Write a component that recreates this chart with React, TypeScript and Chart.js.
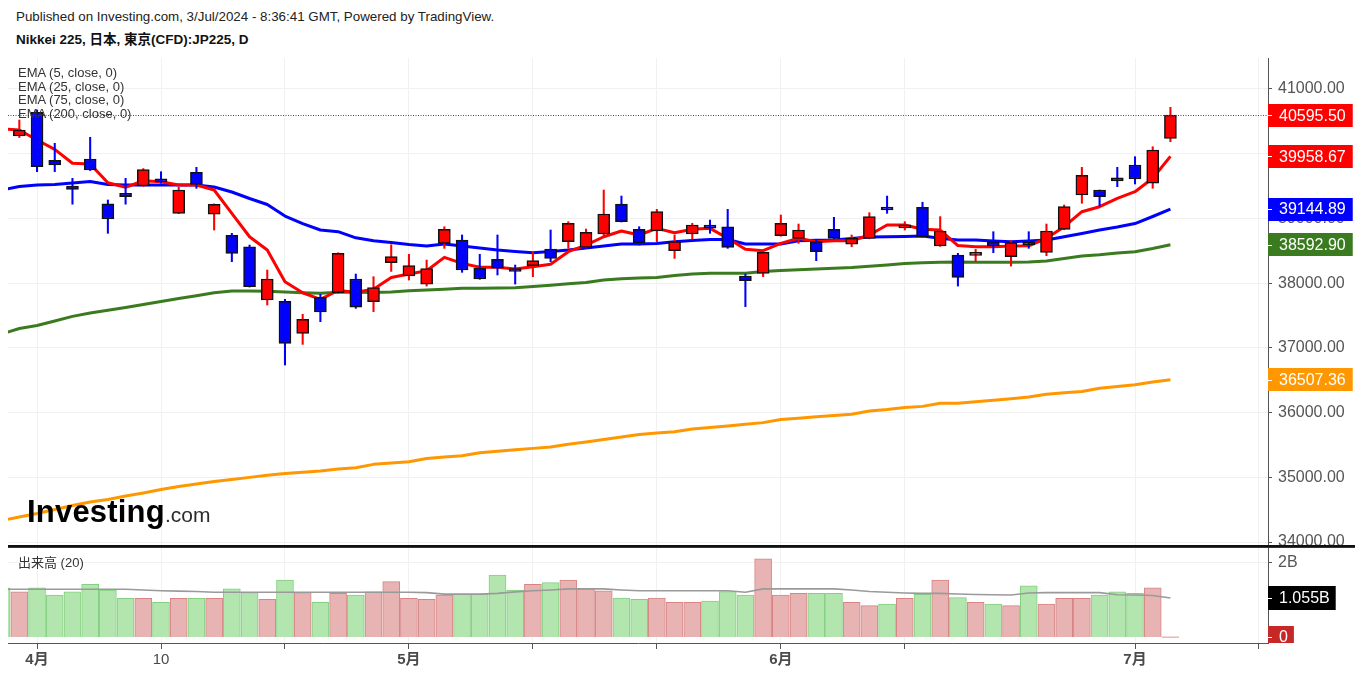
import React, { useEffect, useRef } from 'react';
import { Chart, registerables } from 'chart.js';

Chart.register(...registerables);

const FONT = "'Liberation Sans', Arial, 'Noto Sans CJK JP', sans-serif";
Chart.defaults.font.family = FONT;

// ---------- data ----------
const dates = [
  '3/28', '3/29',
  '4/1', '4/2', '4/3', '4/4', '4/5', '4/8', '4/9', '4/10', '4/11', '4/12',
  '4/15', '4/16', '4/17', '4/18', '4/19', '4/22', '4/23', '4/24', '4/25', '4/26', '4/30',
  '5/1', '5/2', '5/7', '5/8', '5/9', '5/10', '5/13', '5/14', '5/15', '5/16', '5/17',
  '5/20', '5/21', '5/22', '5/23', '5/24', '5/27', '5/28', '5/29', '5/30', '5/31',
  '6/3', '6/4', '6/5', '6/6', '6/7', '6/10', '6/11', '6/12', '6/13', '6/14',
  '6/17', '6/18', '6/19', '6/20', '6/21', '6/24', '6/25', '6/26', '6/27', '6/28',
  '7/1', '7/2', '7/3',
];

const opens = [
  40320, 40274, 40640, 39898, 39501, 39918, 39224, 39389, 39501, 39580,
  39079, 39713, 39065, 38739, 38563, 37739, 37719, 37225, 37781, 37853,
  38064, 37714, 38317, 38110, 37986, 38615, 38666, 38230, 38368, 38213,
  38270, 38527, 38641, 38553, 38759, 39222, 38832, 38806, 38502, 38759,
  38872, 38872, 38110, 38151, 38733, 38692, 38641, 38832, 38604, 38692,
  39172, 38855, 39172, 38574, 38434, 38430, 38641, 38409, 38604, 38476,
  38832, 39362, 39439, 39594, 39825, 39543, 40238,
];
const highs = [
  40450, 40521, 40675, 40161, 39620, 40254, 39285, 39620, 39770, 39722,
  39481, 39790, 39225, 38770, 38589, 38203, 37750, 37518, 37827, 38470,
  38141, 38100, 38594, 38445, 38357, 38872, 38744, 38445, 38744, 38280,
  38486, 38821, 38950, 38836, 39439, 39346, 38872, 39141, 38744, 38925,
  38975, 39141, 38141, 38486, 39053, 38914, 38666, 39017, 38744, 39089,
  39346, 38950, 39250, 39028, 38461, 38522, 38795, 38656, 38795, 38914,
  39208, 39790, 39439, 39790, 39954, 40108, 40717,
];
const lows = [
  40150, 40250, 39722, 39722, 39220, 39740, 38770, 39220, 39495, 39544,
  39075, 39465, 38821, 38332, 37940, 37662, 36735, 37054, 37405, 37845,
  37611, 37560, 38182, 38048, 37955, 38538, 38167, 38060, 38126, 37986,
  38100, 38332, 38538, 38545, 38718, 38945, 38589, 38641, 38383, 38682,
  38770, 38538, 37637, 38100, 38725, 38615, 38347, 38685, 38563, 38685,
  39079, 38821, 38712, 38568, 37955, 38332, 38471, 38264, 38538, 38424,
  38825, 39234, 39192, 39491, 39532, 39466, 40186,
];
const closes = [
  40170, 40366, 39800, 39827, 39450, 39748, 38991, 39337, 39754, 39565,
  39439, 39527, 39219, 38461, 37946, 38064, 37070, 37441, 37554, 38461,
  37627, 37931, 38409, 38270, 38224, 38832, 38203, 38064, 38230, 38180,
  38347, 38383, 38925, 38785, 39069, 38950, 38625, 39105, 38641, 38898,
  38850, 38553, 38040, 38476, 38925, 38821, 38486, 38692, 38692, 39028,
  39130, 38870, 38718, 38806, 38089, 38476, 38574, 38625, 38590, 38806,
  39182, 39666, 39337, 39580, 39609, 40057, 40595.5,
];

const ema5 = [
  40382, 40366, 40212, 40068, 39852, 39841, 39552, 39481, 39583, 39567,
  39516, 39516, 39439, 39079, 38717, 38512, 38022, 37852, 37750, 37886,
  37860, 37906, 38087, 38141, 38192, 38399, 38306, 38245, 38245, 38218,
  38254, 38291, 38486, 38589, 38717, 38806, 38744, 38847, 38779, 38832,
  38847, 38693, 38523, 38501, 38615, 38693, 38640, 38656, 38656, 38744,
  38898, 38898, 38832, 38821, 38581, 38563, 38563, 38574, 38578, 38693,
  38872, 39104, 39181, 39311, 39413, 39620, 39958.67,
];
const ema25 = [
  39439, 39493, 39516, 39524, 39547, 39570, 39524, 39516, 39516, 39516,
  39516, 39516, 39486, 39408, 39308, 39215, 39037, 38921, 38821, 38795,
  38700, 38656, 38628, 38597, 38574, 38605, 38574, 38543, 38512, 38489,
  38470, 38489, 38512, 38543, 38574, 38605, 38605, 38612, 38640, 38659,
  38674, 38674, 38605, 38605, 38605, 38656, 38662, 38666, 38690, 38713,
  38717, 38721, 38728, 38693, 38666, 38666, 38651, 38640, 38651, 38666,
  38717, 38767, 38821, 38867, 38921, 39030, 39144.89,
];
const ema75 = [
  37214, 37299, 37345, 37415, 37487, 37538, 37580, 37623, 37670, 37716,
  37762, 37806, 37852, 37878, 37878, 37875, 37863, 37852, 37843, 37858,
  37858, 37855, 37863, 37881, 37894, 37905, 37920, 37922, 37925, 37929,
  37948, 37968, 37990, 38011, 38048, 38068, 38079, 38087, 38118, 38141,
  38152, 38152, 38154, 38180, 38195, 38207, 38218, 38231, 38241, 38262,
  38280, 38303, 38314, 38322, 38326, 38322, 38322, 38324, 38326, 38342,
  38381, 38419, 38439, 38466, 38486, 38535, 38592.9,
];
const ema200 = [
  34332, 34386, 34440, 34502, 34563, 34617, 34656, 34710, 34757, 34811,
  34857, 34896, 34934, 34965, 34999, 35030, 35058, 35077, 35097, 35127,
  35148, 35200, 35220, 35240, 35290, 35313, 35333, 35379, 35403, 35424,
  35447, 35467, 35511, 35545, 35583, 35622, 35662, 35684, 35705, 35746,
  35769, 35792, 35818, 35845, 35894, 35913, 35934, 35954, 35974, 36024,
  36047, 36078, 36096, 36143, 36143, 36166, 36189, 36212, 36240, 36283,
  36305, 36325, 36375, 36402, 36429, 36472, 36507.36,
];

// volume in billions
const volumes = [
  1.33, 1.22, 1.33, 1.135, 1.22, 1.42, 1.27, 1.045, 1.045, 0.94,
  1.045, 1.045, 1.045, 1.3, 1.2, 1.02, 1.54, 1.2, 0.94, 1.18,
  1.135, 1.22, 1.495, 1.045, 1.02, 1.135, 1.16, 1.16, 1.675, 1.27,
  1.42, 1.47, 1.54, 1.3, 1.25, 1.055, 1.02, 1.055, 0.94, 0.94,
  0.97, 1.225, 1.135, 2.11, 1.135, 1.18, 1.18, 1.18, 0.94, 0.85,
  0.89, 1.045, 1.15, 1.54, 1.065, 0.94, 0.89, 0.85, 1.38, 0.89,
  1.045, 1.045, 1.135, 1.22, 1.18, 1.33, 0,
];
const volumeMA = [
  1.29, 1.29, 1.29, 1.29, 1.29, 1.29, 1.29, 1.29, 1.27, 1.25,
  1.24, 1.23, 1.21, 1.21, 1.21, 1.21, 1.21, 1.21, 1.21, 1.21,
  1.21, 1.21, 1.21, 1.21, 1.2, 1.16, 1.16, 1.16, 1.18, 1.22,
  1.25, 1.27, 1.3, 1.3, 1.3, 1.27, 1.25, 1.25, 1.25, 1.25,
  1.25, 1.25, 1.21, 1.3, 1.3, 1.3, 1.3, 1.3, 1.27, 1.23,
  1.21, 1.19, 1.18, 1.18, 1.16, 1.15, 1.14, 1.135, 1.19, 1.2,
  1.2, 1.2, 1.2, 1.14, 1.135, 1.12, 1.055,
];

const tickIndex = [2, 9, 16, 23, 30, 37, 44, 51, 64, 71];
const tickLabels = ['4月', '10', '', '5月', '', '', '6月', '', '7月', ''];
const priceTicks = [34000, 35000, 36000, 37000, 38000, 39000, 40000, 41000];
const volumeTicks = [2];
const emaLegend = ['EMA (5, close, 0)', 'EMA (25, close, 0)', 'EMA (75, close, 0)', 'EMA (200, close, 0)'];

// ---------- styles ----------
const X_MIN = 0.36;
const X_MAX = 71.51;
const PRICE_MIN = 33954;
const PRICE_MAX = 41479;
const VOL_MIN = -0.162;
const VOL_MAX = 2.405;

const UP = '#ff0000';
const DOWN = '#0000ff';
const GREEN = '#3b7b1f';
const ORANGE = '#ff9800';
const GRID = '#f1f1f1';
const AXIS = '#555555';

const last = closes.length - 1;
const isUp = closes.map((c, i) => c >= opens[i]);

const tickLabelFor = (v: number) => {
  const k = tickIndex.indexOf(Number(v));
  return k >= 0 ? tickLabels[k] : '';
};

const priceLabelPlugin = {
  id: 'priceLabels',
  afterDatasetsDraw(chart: any) {
    const { ctx, chartArea, scales } = chart;
    const py = Math.round(scales.y.getPixelForValue(closes[last])) + 0.5;
    ctx.save();
    ctx.strokeStyle = '#ff0000';
    ctx.lineWidth = 1;
    ctx.setLineDash([1, 1.5]);
    ctx.beginPath();
    ctx.moveTo(chartArea.left, py);
    ctx.lineTo(chartArea.right, py);
    ctx.stroke();
    ctx.restore();
  },
  afterDraw(chart: any) {
    const { ctx, chartArea, scales } = chart;
    const marks = [
      { v: closes[last], c: UP },
      { v: ema5[last], c: UP },
      { v: ema25[last], c: DOWN },
      { v: ema75[last], c: GREEN },
      { v: ema200[last], c: ORANGE },
    ];
    ctx.save();
    ctx.font = `16px ${FONT}`;
    ctx.textBaseline = 'middle';
    ctx.textAlign = 'left';
    for (const m of marks) {
      const yy = scales.y.getPixelForValue(m.v);
      const text = m.v.toFixed(2);
      const w = ctx.measureText(text).width;
      ctx.fillStyle = m.c;
      ctx.fillRect(chartArea.right, Math.round(yy - 11.5), w + 18, 23);
      ctx.strokeStyle = '#ffffff';
      ctx.lineWidth = 1;
      ctx.beginPath();
      ctx.moveTo(chartArea.right, Math.round(yy) + 0.5);
      ctx.lineTo(chartArea.right + 4, Math.round(yy) + 0.5);
      ctx.stroke();
      ctx.fillStyle = '#ffffff';
      ctx.fillText(text, chartArea.right + 11, yy + 1);
    }
    ctx.restore();
  },
};

const volumeLabelPlugin = {
  id: 'volumeLabels',
  afterDraw(chart: any) {
    const { ctx, chartArea, scales } = chart;
    ctx.save();
    ctx.font = `16px ${FONT}`;
    ctx.textBaseline = 'middle';
    ctx.textAlign = 'left';
    const ma = volumeMA[last];
    const ym = scales.y.getPixelForValue(ma);
    const tm = ma.toFixed(3) + 'B';
    const wm = ctx.measureText(tm).width;
    ctx.fillStyle = '#000000';
    ctx.fillRect(chartArea.right, Math.round(ym - 12), wm + 17, 24);
    ctx.fillStyle = '#ffffff';
    ctx.fillRect(chartArea.right, Math.round(ym), 4, 1);
    ctx.fillText(tm, chartArea.right + 11, ym + 1);

    ctx.beginPath();
    ctx.rect(chartArea.right, chartArea.top, 200, chartArea.bottom - chartArea.top);
    ctx.clip();
    const v0 = volumes[last];
    const y0 = scales.y.getPixelForValue(v0);
    const t0 = v0 === 0 ? '0' : v0.toFixed(3) + 'B';
    const w0 = ctx.measureText(t0).width;
    ctx.fillStyle = '#c62828';
    ctx.fillRect(chartArea.right, Math.round(y0 - 11), w0 + 17, 22);
    ctx.fillStyle = '#ffffff';
    ctx.fillRect(chartArea.right, Math.round(y0), 4, 1);
    ctx.fillText(t0, chartArea.right + 11, y0 + 1);
    ctx.restore();
  },
};

const lineDs = (vals: number[], color: string, order: number) => ({
  type: 'line' as const,
  data: vals.map((v, i) => ({ x: i, y: v })),
  borderColor: color,
  borderWidth: 3,
  pointRadius: 0,
  tension: 0,
  borderJoinStyle: 'round' as const,
  order,
});

export default function App() {
  const topRef = useRef<HTMLCanvasElement>(null);
  const botRef = useRef<HTMLCanvasElement>(null);

  useEffect(() => {
    const top = new Chart(topRef.current as HTMLCanvasElement, {
      type: 'bar',
      data: {
        datasets: [
          {
            type: 'bar',
            data: dates.map((_, i) => ({ x: i, y: [opens[i], closes[i]] })) as any,
            backgroundColor: isUp.map((u) => (u ? UP : DOWN)),
            borderColor: '#111111',
            borderWidth: 1.5,
            borderSkipped: false,
            barThickness: 12,
            minBarLength: 3,
            grouped: false,
            clip: 0,
            order: 0,
          } as any,
          {
            type: 'bar',
            data: dates.map((_, i) => ({ x: i, y: [lows[i], highs[i]] })) as any,
            backgroundColor: isUp.map((u) => (u ? UP : DOWN)),
            borderWidth: 0,
            barThickness: 1.4,
            grouped: false,
            clip: 0,
            order: 1,
          } as any,
          lineDs(ema5, UP, 2) as any,
          lineDs(ema25, DOWN, 3) as any,
          lineDs(ema75, GREEN, 4) as any,
          lineDs(ema200, ORANGE, 5) as any,
        ],
      },
      options: {
        animation: false,
        responsive: true,
        maintainAspectRatio: false,
        events: [],
        layout: { padding: { left: 8, top: 58, right: 0, bottom: 0 } },
        plugins: { legend: { display: false }, tooltip: { enabled: false } },
        scales: {
          x: {
            type: 'linear',
            min: X_MIN,
            max: X_MAX,
            offset: false,
            grid: { color: GRID, drawTicks: false, offset: false },
            border: { display: false },
            ticks: { display: false },
            afterBuildTicks: (s: any) => {
              s.ticks = tickIndex.map((v) => ({ value: v }));
            },
            afterFit: (s: any) => {
              s.height = 0;
              s.paddingLeft = 0;
              s.paddingRight = 0;
            },
          },
          y: {
            type: 'linear',
            position: 'right',
            min: PRICE_MIN,
            max: PRICE_MAX,
            grid: { color: GRID, tickColor: AXIS, tickLength: 4 },
            border: { color: AXIS },
            ticks: {
              color: AXIS,
              font: { family: FONT, size: 16 },
              padding: 6,
              callback: (v: any) => Number(v).toFixed(2),
            },
            afterBuildTicks: (s: any) => {
              s.ticks = priceTicks.map((v) => ({ value: v }));
            },
            afterFit: (s: any) => {
              s.width = 92;
              s.paddingTop = 0;
              s.paddingBottom = 0;
            },
          },
        } as any,
      },
      plugins: [priceLabelPlugin as any],
    });

    const bot = new Chart(botRef.current as HTMLCanvasElement, {
      type: 'bar',
      data: {
        datasets: [
          {
            type: 'line',
            data: volumeMA.map((v, i) => ({ x: i, y: v })),
            borderColor: '#9a9a9a',
            borderWidth: 1.6,
            pointRadius: 0,
            tension: 0,
            order: 0,
          } as any,
          {
            type: 'bar',
            data: volumes.map((v, i) => ({ x: i, y: v })),
            backgroundColor: isUp.map((u) => (u ? '#e8b3b3' : '#b2e6ae')),
            borderColor: isUp.map((u) => (u ? '#d88484' : '#84cf80')),
            borderWidth: 1,
            barThickness: 17,
            minBarLength: 1,
            grouped: false,
            clip: 0,
            order: 1,
          } as any,
        ],
      },
      options: {
        animation: false,
        responsive: true,
        maintainAspectRatio: false,
        events: [],
        layout: { padding: { left: 8, top: 1, right: 0, bottom: 0 } },
        plugins: { legend: { display: false }, tooltip: { enabled: false } },
        scales: {
          x: {
            type: 'linear',
            min: X_MIN,
            max: X_MAX,
            offset: false,
            grid: { color: GRID, tickColor: AXIS, tickLength: 6, offset: false },
            border: { color: AXIS },
            ticks: {
              autoSkip: false,
              maxRotation: 0,
              padding: 2,
              color: '#4a4a4a',
              font: (c: any) => ({
                family: FONT,
                size: 15,
                weight: c && c.tick && tickLabelFor(c.tick.value).includes('月') ? 'bold' : 'normal',
              }),
              callback: (v: any) => tickLabelFor(v),
            },
            afterBuildTicks: (s: any) => {
              s.ticks = tickIndex.map((v) => ({ value: v }));
            },
            afterFit: (s: any) => {
              s.height = 34;
              s.paddingLeft = 0;
              s.paddingRight = 0;
            },
          },
          y: {
            type: 'linear',
            position: 'right',
            min: VOL_MIN,
            max: VOL_MAX,
            grid: { color: GRID, tickColor: AXIS, tickLength: 4 },
            border: { color: AXIS },
            ticks: {
              color: AXIS,
              font: { family: FONT, size: 16 },
              padding: 6,
              callback: (v: any) => `${v}B`,
            },
            afterBuildTicks: (s: any) => {
              s.ticks = volumeTicks.map((v) => ({ value: v }));
            },
            afterFit: (s: any) => {
              s.width = 92;
              s.paddingTop = 0;
              s.paddingBottom = 0;
            },
          },
        } as any,
      },
      plugins: [volumeLabelPlugin as any],
    });

    return () => {
      top.destroy();
      bot.destroy();
    };
  }, []);

  return (
    <div
      style={{
        position: 'absolute',
        left: 0,
        top: 0,
        width: 1360,
        height: 677,
        overflow: 'hidden',
        background: '#ffffff',
        fontFamily: FONT,
      }}
    >
      <div style={{ position: 'absolute', left: 16, top: 9, fontSize: 13.35, lineHeight: '16px', color: '#222', whiteSpace: 'nowrap' }}>
        Published on Investing.com, 3/Jul/2024 - 8:36:41 GMT, Powered by TradingView.
      </div>
      <div style={{ position: 'absolute', left: 16, top: 32, fontSize: 13.5, fontWeight: 700, lineHeight: '16px', color: '#111', whiteSpace: 'nowrap' }}>
        Nikkei 225, 日本, 東京(CFD):JP225, D
      </div>
      <div style={{ position: 'absolute', left: 0, top: 0, width: 1360, height: 545, zIndex: 1 }}>
        <canvas ref={topRef} />
      </div>
      <div style={{ position: 'absolute', left: 18, top: 66, fontSize: 13, lineHeight: '13.7px', color: '#333', whiteSpace: 'nowrap', zIndex: 2 }}>
        {emaLegend.map((t) => (
          <div key={t}>{t}</div>
        ))}
      </div>
      <div style={{ position: 'absolute', left: 27, top: 497, lineHeight: '30px', whiteSpace: 'nowrap', zIndex: 3 }}>
        <span style={{ fontSize: 31, fontWeight: 700, letterSpacing: '0.2px', color: '#000' }}>Investing</span>
        <span style={{ fontSize: 21, color: '#2a2a2a' }}>.com</span>
      </div>
      <div style={{ position: 'absolute', left: 8, top: 544.5, width: 1347, height: 2, background: '#111', zIndex: 2 }} />
      <div style={{ position: 'absolute', left: 8, top: 547, width: 1347, height: 1, background: '#333', zIndex: 2 }} />
      <div style={{ position: 'absolute', left: 0, top: 547, width: 1360, height: 130, zIndex: 1 }}>
        <canvas ref={botRef} />
      </div>
      <div style={{ position: 'absolute', left: 18, top: 555, fontSize: 13, lineHeight: '16px', color: '#333', whiteSpace: 'nowrap', zIndex: 2 }}>
        出来高 (20)
      </div>
    </div>
  );
}
